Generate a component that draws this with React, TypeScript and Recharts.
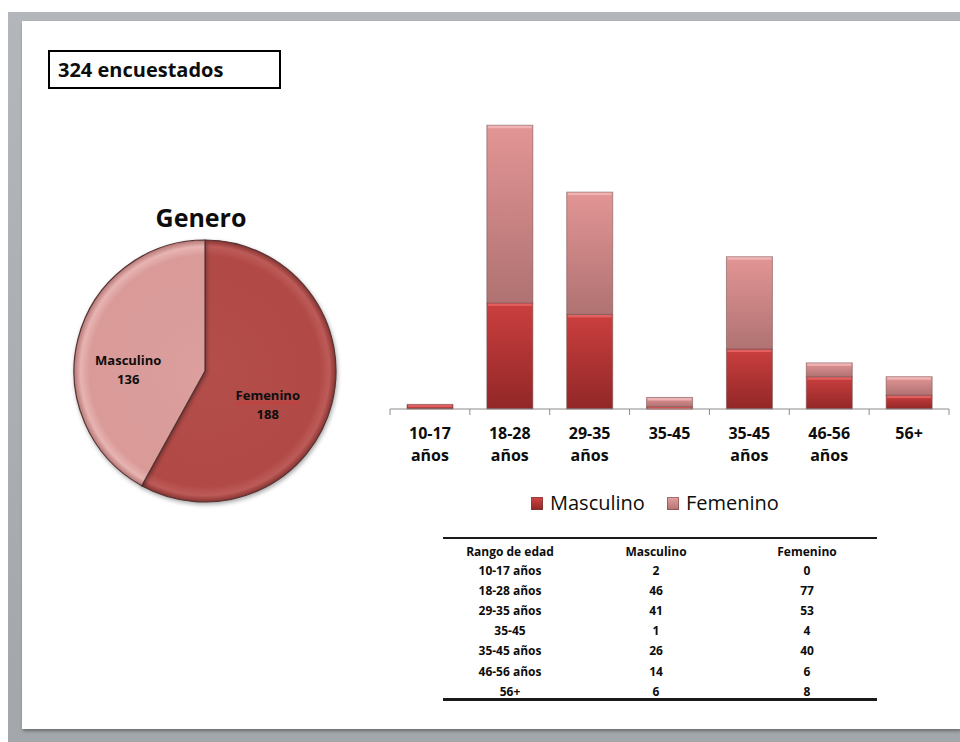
import React from 'react';
import { BarChart, Bar, XAxis, YAxis, Legend, PieChart, Pie, Cell } from 'recharts';

// Survey data by age range
const ageRanges = ['10-17 años', '18-28 años', '29-35 años', '35-45', '35-45 años', '46-56 años', '56+'];
const masculino = [2, 46, 41, 1, 26, 14, 6];
const femenino = [0, 77, 53, 4, 40, 6, 8];
const seriesNames = ['Masculino', 'Femenino'];
const tableHeaders = ['Rango de edad', 'Masculino', 'Femenino'];
const pieTitle = 'Genero';
const respondentsLabel = 'encuestados';
const yDomain = [0, 140];

const sum = (a: number[]) => a.reduce((s, v) => s + v, 0);
const totalMasculino = sum(masculino);
const totalFemenino = sum(femenino);
const totalRespondents = totalMasculino + totalFemenino;

const barData = ageRanges.map((range, i) => ({
  range,
  Masculino: masculino[i],
  Femenino: femenino[i],
}));
const pieData = [
  { name: 'Femenino', value: totalFemenino },
  { name: 'Masculino', value: totalMasculino },
];

const FONT = "'Open Sans', 'DejaVu Sans', sans-serif";
const INK = '#0d0d0d';

// bar chart geometry
const BAR_W = 580;
const BAR_H = 480;
const BAR_MARGIN = { top: 26, right: 11, bottom: 71, left: 10 };
const PLOT_W = BAR_W - BAR_MARGIN.left - BAR_MARGIN.right;

const AgeTick = (props: any) => {
  const { x, y, payload, index } = props;
  const band = PLOT_W / ageRanges.length;
  const parts = String(payload.value).split(' ');
  return (
    <g>
      <line x1={x - band / 2} x2={x - band / 2} y1={y} y2={y + 6} stroke="#8c8c8c" strokeWidth={1} />
      {index === ageRanges.length - 1 && (
        <line x1={x + band / 2} x2={x + band / 2} y1={y} y2={y + 6} stroke="#8c8c8c" strokeWidth={1} />
      )}
      <text textAnchor="middle" fontFamily={FONT} fontSize={16} fontWeight={700} fill={INK}>
        {parts.map((p, i) => (
          <tspan key={i} x={x} y={y + 30 + i * 22}>
            {p}
          </tspan>
        ))}
      </text>
    </g>
  );
};

const makeBarShape = (gradId: string, highlight: string) => (props: any) => {
  const { x, y, width, height } = props;
  if (!height || height <= 0) return <g />;
  const hl = Math.min(2.5, height);
  return (
    <g>
      <rect x={x} y={y} width={width} height={height} fill={`url(#${gradId})`} stroke="rgba(115,80,80,0.55)" strokeWidth={1} />
      <rect x={x + 1} y={y + 0.5} width={width - 2} height={hl} fill={highlight} opacity={0.85} />
    </g>
  );
};

const MascShape = makeBarShape('barMasc', '#e86666');
const FemShape = makeBarShape('barFem', '#f2b9b9');

const legendSwatch: Record<string, string> = {
  Masculino: 'linear-gradient(#d04646, #8f2424)',
  Femenino: 'linear-gradient(#e6a0a0, #b27272)',
};

const LegendContent = () => (
  <div style={{ display: 'flex', alignItems: 'center', fontFamily: FONT, fontSize: 20, lineHeight: '20px', color: INK, whiteSpace: 'nowrap' }}>
    {seriesNames.map((name, i) => (
      <div key={name} style={{ display: 'flex', alignItems: 'center', marginLeft: i === 0 ? 0 : 22 }}>
        <span
          style={{
            display: 'inline-block',
            width: 12,
            height: 13,
            background: legendSwatch[name],
            boxShadow: 'inset 0 0 0 1px rgba(110,60,60,0.5)',
            marginRight: 7,
          }}
        />
        <span>{name}</span>
      </div>
    ))}
  </div>
);

const RADIAN = Math.PI / 180;
const renderPieLabel = (props: any) => {
  const { cx, cy, midAngle, outerRadius, name, value } = props;
  const r = outerRadius * 0.55;
  const lx = cx + r * Math.cos(-midAngle * RADIAN) - 7;
  const ly = cy + r * Math.sin(-midAngle * RADIAN) + 13;
  const wavy = name === 'Femenino';
  let d = '';
  if (wavy) {
    const x0 = lx - 32;
    const yy = ly + 1;
    d = `M${x0},${yy}`;
    for (let k = 0; k < 16; k++) {
      d += ` L${x0 + (k + 1) * 4 - 2},${yy + (k % 2 === 0 ? 1.2 : -1.2)} L${x0 + (k + 1) * 4},${yy}`;
    }
  }
  return (
    <g>
      <text textAnchor="middle" fontFamily={FONT} fontSize={13} fontWeight={700} fill={INK}>
        <tspan x={lx} y={ly - 1.5}>{name}</tspan>
        <tspan x={lx} y={ly + 17.5}>{value}</tspan>
      </text>
      {wavy && <path d={d} fill="none" stroke="#e03030" strokeWidth={0.8} />}
    </g>
  );
};

const PIE_CX = 165;
const PIE_CY = 151;
const PIE_R = 131;

export default function App() {
  const tableCols = [510, 656, 807];
  const rowY = (i: number) => 574.5 + i * 20.2;
  return (
    <div style={{ position: 'absolute', left: 0, top: 0, width: 960, height: 742, background: '#ffffff', overflow: 'hidden' }}>
      <style>{`.pie-wrap .recharts-pie-sector { filter: drop-shadow(1.5px 2px 2px rgba(0,0,0,0.35)); }`}</style>
      {/* slide frame */}
      <div style={{ position: 'absolute', left: 8, top: 12, width: 952, height: 730, background: 'linear-gradient(#b3b6ba, #a3a7ab)' }} />
      <div
        style={{
          position: 'absolute',
          left: 22,
          top: 21,
          width: 938,
          height: 708,
          background: '#ffffff',
          boxShadow: '1px 2px 3px rgba(60,60,60,0.55)',
        }}
      />

      {/* headline box, pie title and data table */}
      <svg width={960} height={742} style={{ position: 'absolute', left: 0, top: 0 }}>
        <rect x={49} y={51} width={231} height={37} fill="#ffffff" stroke="#000000" strokeWidth={2} />
        <text x={58} y={77} fontFamily={FONT} fontSize={20} fontWeight={700} fill={INK}>
          {`${totalRespondents} ${respondentsLabel}`}
        </text>
        <text x={201} y={227} textAnchor="middle" fontFamily={FONT} fontSize={25} fontWeight={700} fill={INK}>
          {pieTitle}
        </text>

        <rect x={443} y={537} width={434} height={2} fill="#1a1a1a" />
        {tableHeaders.map((h, c) => (
          <text key={h} x={tableCols[c]} y={555.5} textAnchor="middle" fontFamily={FONT} fontSize={12} fontWeight={700} fill={INK}>
            {h}
          </text>
        ))}
        {ageRanges.map((r, i) => (
          <g key={i}>
            <text x={tableCols[0]} y={rowY(i)} textAnchor="middle" fontFamily={FONT} fontSize={12} fontWeight={700} fill={INK}>
              {r}
            </text>
            <text x={tableCols[1]} y={rowY(i)} textAnchor="middle" fontFamily={FONT} fontSize={12} fontWeight={700} fill={INK}>
              {masculino[i]}
            </text>
            <text x={tableCols[2]} y={rowY(i)} textAnchor="middle" fontFamily={FONT} fontSize={12} fontWeight={700} fill={INK}>
              {femenino[i]}
            </text>
          </g>
        ))}
        <rect x={443} y={698} width={434} height={3} fill="#1a1a1a" />
      </svg>

      {/* gender pie */}
      <div className="pie-wrap" style={{ position: 'absolute', left: 40, top: 220 }}>
        <PieChart width={330} height={300} margin={{ top: 0, right: 0, bottom: 0, left: 0 }}>
          <defs>
            <radialGradient id="pieFem" gradientUnits="userSpaceOnUse" cx={PIE_CX} cy={PIE_CY} r={PIE_R}>
              <stop offset="0%" stopColor="#b44e4b" />
              <stop offset="88%" stopColor="#b14a47" />
              <stop offset="95%" stopColor="#bd5b58" />
              <stop offset="100%" stopColor="#873331" />
            </radialGradient>
            <radialGradient id="pieMasc" gradientUnits="userSpaceOnUse" cx={PIE_CX} cy={PIE_CY} r={PIE_R}>
              <stop offset="0%" stopColor="#dc9f9d" />
              <stop offset="88%" stopColor="#d99a98" />
              <stop offset="95%" stopColor="#e7b4b2" />
              <stop offset="100%" stopColor="#b57674" />
            </radialGradient>
          </defs>
          <Pie
            data={pieData}
            dataKey="value"
            nameKey="name"
            cx={PIE_CX}
            cy={PIE_CY}
            outerRadius={PIE_R}
            startAngle={90}
            endAngle={-270}
            stroke="#563434"
            strokeWidth={1.2}
            label={renderPieLabel}
            labelLine={false}
            isAnimationActive={false}
          >
            <Cell fill="url(#pieFem)" />
            <Cell fill="url(#pieMasc)" />
          </Pie>
        </PieChart>
      </div>

      {/* stacked bars by age range */}
      <div style={{ position: 'absolute', left: 380, top: 60 }}>
        <BarChart width={BAR_W} height={BAR_H} data={barData} margin={BAR_MARGIN} barSize={46}>
          <defs>
            <linearGradient id="barMasc" x1="0" y1="0" x2="0" y2="1">
              <stop offset="0%" stopColor="#cb3f3f" />
              <stop offset="100%" stopColor="#922727" />
            </linearGradient>
            <linearGradient id="barFem" x1="0" y1="0" x2="0" y2="1">
              <stop offset="0%" stopColor="#e39595" />
              <stop offset="100%" stopColor="#b07272" />
            </linearGradient>
          </defs>
          <XAxis
            dataKey="range"
            interval={0}
            height={60}
            tickSize={0}
            tickMargin={0}
            tickLine={false}
            axisLine={{ stroke: '#8c8c8c', strokeWidth: 1 }}
            tick={<AgeTick />}
          />
          <YAxis hide domain={yDomain} />
          <Legend
            verticalAlign="middle"
            align="center"
            layout="horizontal"
            content={<LegendContent />}
            wrapperStyle={{ left: 151, top: 433, width: 'auto' }}
          />
          <Bar dataKey="Masculino" stackId="a" shape={MascShape} isAnimationActive={false} />
          <Bar dataKey="Femenino" stackId="a" shape={FemShape} isAnimationActive={false} />
        </BarChart>
      </div>
    </div>
  );
}
